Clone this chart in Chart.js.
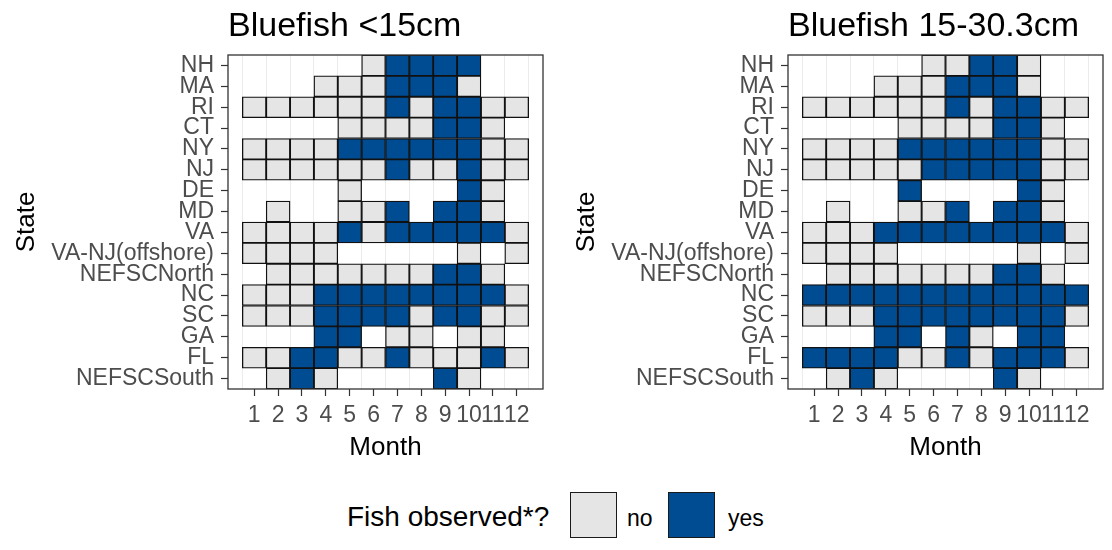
<!DOCTYPE html>
<html>
<head>
<meta charset="utf-8">
<title>Bluefish observations by state and month</title>
<script src="https://cdn.jsdelivr.net/npm/chart.js@4.4.1/dist/chart.umd.min.js"></script>
<style>
  html, body { margin: 0; padding: 0; background: #fff; }
  body { width: 1112px; height: 550px; position: relative; overflow: hidden;
         font-family: 'Liberation Sans', Arial, sans-serif; }
  canvas { position: absolute; top: 0; }
  #smallChart { left: 0; }
  #largeChart { left: 560px; }
  .lg { position: absolute; white-space: nowrap; line-height: 1; color: #000; }
  .key { position: absolute; box-sizing: border-box; width: 47px; height: 46px;
         border: 1.5px solid #1a1a1a; }
</style>
</head>
<body>
<canvas id="smallChart" width="556" height="470"></canvas>
<canvas id="largeChart" width="552" height="470"></canvas>

<div class="lg" style="left:347px; top:503px; font-size:28px;">Fish observed*?</div>
<div class="key" style="left:570px; top:492px; background:#e5e5e5;"></div>
<div class="lg" style="left:627px; top:507px; font-size:23px;">no</div>
<div class="key" style="left:668px; top:492px; background:#004c93;"></div>
<div class="lg" style="left:728px; top:507px; font-size:23px;">yes</div>

<script>
// States top to bottom, months left to right
const states = ['NH', 'MA', 'RI', 'CT', 'NY', 'NJ', 'DE', 'MD', 'VA', 'VA-NJ(offshore)',
                'NEFSCNorth', 'NC', 'SC', 'GA', 'FL', 'NEFSCSouth'];
const months = [1, 2, 3, 4, 5, 6, 7, 8, 9, 10, 11, 12];

// One string per state, one char per month: '.' not sampled, 'n' no fish, 'y' fish seen
const under15 = [
    '.....nyyyy..',
    '...nnnyyyn..',
    'nnnnnnynyynn',
    '....nnnnyyn.',
    'nnnnyyyyyynn',
    'nnnnnnynnynn',
    '....n....yn.',
    '.n..nny.yyn.',
    'nnnnynyyyyyn',
    'nnnn.....n.n',
    '.nnnnnnnyyn.',
    'nnnyyyyyyyyn',
    'nnnyyyynyynn',
    '...yy.nn.nn.',
    'nnyynnynnnyn',
    '.nyn....yn..'
];
const from15to30 = [
    '.....nnyyn..',
    '...nnnyyyn..',
    'nnnnnnynyynn',
    '....nnnnyyn.',
    'nnnnyyyyyynn',
    'nnnnnyyyyynn',
    '....y....yn.',
    '.n..nny.yyn.',
    'nnnyyyyyyyyn',
    'nnnn.....n.n',
    '.nnnnnnnyyn.',
    'yyyyyyyyyyyy',
    'nnnyyyyyyyyn',
    '...yy.yn.yy.',
    'yyyynnynyyyn',
    '.nyn....yn..'
];

const GREY = '#e5e5e5';
const BLUE = '#004c93';
const FONT = "'Liberation Sans', Arial, sans-serif";

Chart.defaults.font.family = FONT;

// frame round the panel plus the panel title, left aligned on the plot area
const panelDecor = {
    id: 'panelDecor',
    afterDatasetsDraw: (chart, args, opts) => {
        const { ctx, chartArea: a } = chart;
        ctx.save();
        ctx.strokeStyle = '#333333';
        ctx.lineWidth = 1.3;
        ctx.strokeRect(a.left, a.top, a.right - a.left, a.bottom - a.top);
        ctx.fillStyle = '#000';
        ctx.font = '34px ' + FONT;
        ctx.textBaseline = 'alphabetic';
        ctx.textAlign = 'left';
        ctx.fillText(opts.title, a.left, 36);
        ctx.restore();
    }
};

// every month becomes a dataset of floating bars, one tile per state
function buildDatasets(rows) {
    return months.map((m, mi) => ({
        label: 'Month ' + m,
        data: rows.map(r => r[mi] === '.' ? null : [m - 0.5, m + 0.5]),
        backgroundColor: rows.map(r => r[mi] === 'y' ? BLUE : GREY)
    }));
}

function makeChart(canvasId, rows, title, padRight) {
    const config = {
        type: 'bar',
        data: {
            labels: states,
            datasets: buildDatasets(rows)
        },
        options: {
            indexAxis: 'y',
            responsive: false,
            animation: false,
            layout: {
                padding: { top: 55, right: padRight, bottom: 0, left: 0 }
            },
            datasets: {
                bar: {
                    grouped: false,
                    barPercentage: 1,
                    categoryPercentage: 1,
                    borderSkipped: false,
                    borderWidth: 1.3,
                    borderColor: '#111111'
                }
            },
            plugins: {
                legend: { display: false },
                tooltip: { enabled: false },
                panelDecor: { title: title }
            },
            scales: {
                x: {
                    type: 'linear',
                    min: -0.1,
                    max: 13.1,
                    afterBuildTicks: (axis) => {
                        // labelled months plus the half steps between tiles
                        const ticks = [{ value: 0.5 }];
                        months.forEach(m => {
                            ticks.push({ value: m });
                            ticks.push({ value: m + 0.5 });
                        });
                        axis.ticks = ticks;
                    },
                    afterFit: (scale) => { scale.height = 81; },
                    border: { display: false },
                    grid: {
                        color: (ctx) => Number.isInteger(ctx.tick.value) ? 'rgba(0,0,0,0)' : '#ebebeb',
                        tickColor: (ctx) => Number.isInteger(ctx.tick.value) ? '#333333' : 'rgba(0,0,0,0)',
                        tickLength: 7,
                        tickWidth: 1.2,
                        lineWidth: 1
                    },
                    ticks: {
                        autoSkip: false,
                        maxRotation: 0,
                        padding: 6,
                        color: '#4d4d4d',
                        font: { size: 23 },
                        callback: (v) => Number.isInteger(v) ? String(v) : ''
                    },
                    title: {
                        display: true,
                        text: 'Month',
                        color: '#000',
                        font: { size: 26 },
                        padding: { top: 0, bottom: 7 }
                    }
                },
                y: {
                    type: 'category',
                    offset: true,
                    afterFit: (scale) => { scale.width = 228; },
                    border: { display: false },
                    grid: {
                        offset: false,
                        drawOnChartArea: false,
                        tickColor: '#333333',
                        tickLength: 7,
                        tickWidth: 1.2
                    },
                    ticks: {
                        autoSkip: false,
                        padding: 7,
                        color: '#4d4d4d',
                        font: { size: 23, lineHeight: 1 }
                    },
                    title: {
                        display: true,
                        text: 'State',
                        color: '#000',
                        font: { size: 26 },
                        padding: { top: 11, bottom: 0 }
                    }
                }
            }
        },
        plugins: [panelDecor]
    };
    return new Chart(document.getElementById(canvasId), config);
}

makeChart('smallChart', under15, 'Bluefish <15cm', 13);
makeChart('largeChart', from15to30, 'Bluefish 15-30.3cm', 9);
</script>
</body>
</html>
